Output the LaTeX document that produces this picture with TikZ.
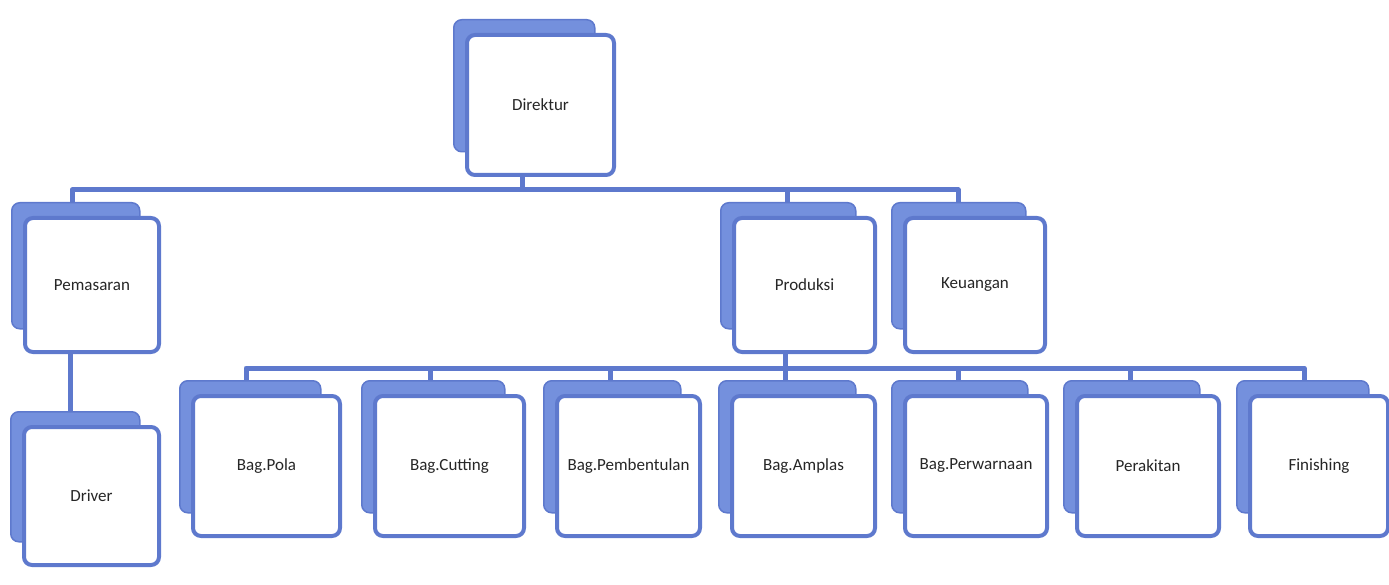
\documentclass[tikz,border=0pt]{standalone}
\usepackage{fontspec}
\setmainfont{Carlito}
\definecolor{folderblue}{RGB}{116,144,221}
\definecolor{lineblue}{RGB}{94,121,205}
\newcommand{\folderbox}[6]{%
  \node[backpanel, minimum width=#4-6, minimum height=#5-8, anchor=north west] (#1b) at (#2-12,#3-14) {};
  \node[card, minimum width=#4, minimum height=#5, anchor=north west] (#1) at (#2,#3) {#6};
}
\begin{document}
\begin{tikzpicture}[x=1pt,y=-1pt,
  backpanel/.style={fill=folderblue, draw=lineblue, line width=1.5pt, rounded corners=8pt, inner sep=0pt},
  card/.style={fill=white, draw=lineblue, line width=4pt, rounded corners=8pt, inner sep=0pt,
    font=\fontsize{17}{20}\selectfont, text=black!85, align=center},
  conn/.style={draw=lineblue, line width=5pt, line join=round}]
\useasboundingbox (0,0) rectangle (1389,585);

% boxes
\folderbox{dir}{465}{33}{147}{140}{Direktur}
\folderbox{pem}{23}{216}{134}{134}{Pemasaran}
\folderbox{drv}{22}{425}{135}{138}{Driver}
\folderbox{pro}{732}{216}{141}{134}{Produksi}
\folderbox{keu}{903}{216}{140}{134}{Keuangan}
\folderbox{pola}{191}{394}{147}{140}{Bag.Pola}
\folderbox{cut}{373}{394}{149}{140}{Bag.Cutting}
\folderbox{pbt}{555}{394}{143}{140}{Bag.Pembentulan}
\folderbox{amp}{730}{394}{143}{140}{Bag.Amplas}
\folderbox{pew}{903}{394}{142}{140}{Bag.Perwarnaan}
\folderbox{per}{1075}{394}{142}{140}{Perakitan}
\folderbox{fin}{1248}{394}{138}{140}{Finishing}

% junction coordinates
\coordinate (ja) at (72,190);
\coordinate (jd) at (522,190);
\coordinate (jb) at (787,190);
\coordinate (jc) at (958,190);
\coordinate (jp) at (70,350);
\coordinate (k0) at (785,368);
\coordinate (k1) at (246,368);
\coordinate (k2) at (430,368);
\coordinate (k3) at (610,368);
\coordinate (k4) at (785,368);
\coordinate (k5) at (958,368);
\coordinate (k6) at (1130,368);
\coordinate (k7) at (1304,368);

% upper level
\draw[conn] (jd |- dir.south) -- (jd);
\draw[conn] (ja |- pemb.north) -- (ja) -- (jc) -- (jc |- keub.north);
\draw[conn] (jb) -- (jb |- prob.north);
\draw[conn] (jp |- pem.south) -- (jp |- drvb.north);

% lower level
\draw[conn] (k0 |- pro.south) -- (k0);
\draw[conn] (k1 |- polab.north) -- (k1) -- (k7) -- (k7 |- finb.north);
\draw[conn] (k2) -- (k2 |- cutb.north);
\draw[conn] (k3) -- (k3 |- pbtb.north);
\draw[conn] (k4) -- (k4 |- ampb.north);
\draw[conn] (k5) -- (k5 |- pewb.north);
\draw[conn] (k6) -- (k6 |- perb.north);
\end{tikzpicture}
\end{document}
